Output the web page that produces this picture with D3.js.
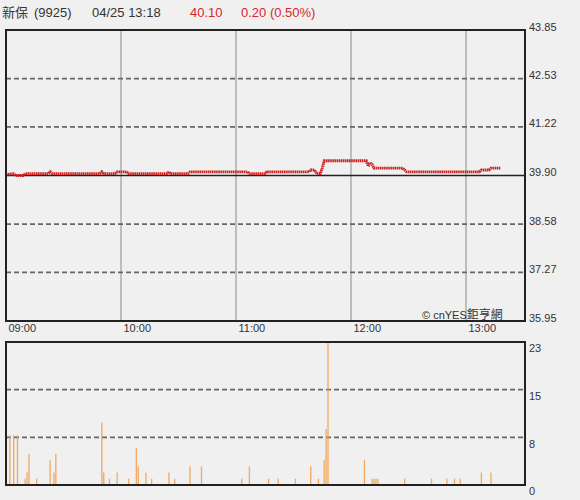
<!DOCTYPE html>
<html>
<head>
<meta charset="utf-8">
<script src="https://cdn.jsdelivr.net/npm/d3@7"></script>
<style>
  html, body { margin: 0; padding: 0; background: #f0f0f0; }
  svg { display: block; }
  text { font-family: "Liberation Sans", Arial, sans-serif; }
</style>
</head>
<body>
<svg id="chart" width="580" height="500"></svg>
<script>
// ---------- data ----------
const stockName = "新保";
const stockCode = "(9925)";
const stampText = "04/25 13:18";
const lastPrice = "40.10";
const changeText = "0.20 (0.50%)";
const prevClose = 39.90;

// price ticks (right axis)
const priceTicks = [43.85, 42.53, 41.22, 39.90, 38.58, 37.27, 35.95];
// time ticks: minutes after 09:00
const timeTickMinutes = [0, 60, 120, 180, 240];
const timeTickLabels = ["09:00", "10:00", "11:00", "12:00", "13:00"];

// price line (minute after 09:00, price)
const priceMinutes = [0, 4, 5, 9, 10, 22, 23, 24, 49, 50, 51, 57, 58, 63, 64, 84, 85, 86, 95, 96, 126, 127, 135, 136, 158, 159, 161, 162, 164, 165, 166, 188, 189, 190, 191, 192, 207, 209, 247, 248, 252, 253, 258];
const priceValues  = [39.93, 39.95, 39.90, 39.90, 39.95, 39.95, 40.00, 39.95, 39.95, 40.00, 39.95, 39.95, 40.00, 40.00, 39.95, 39.95, 40.00, 39.95, 39.95, 40.00, 40.00, 39.95, 39.95, 40.00, 40.00, 40.05, 40.05, 39.95, 39.95, 40.10, 40.30, 40.30, 40.15, 40.25, 40.20, 40.10, 40.10, 40.00, 40.00, 40.05, 40.05, 40.10, 40.10];

// volume bars (minute after 09:00, volume)
const volMinutes = [0, 2, 4, 6, 10, 11, 12, 16, 23, 25, 26, 50, 51, 54, 58, 64, 68, 69, 73, 76, 85, 88, 96, 102, 123, 127, 137, 142, 151, 159, 163, 166, 167, 168, 187, 191, 192, 193, 194, 208, 222, 230, 234, 237, 248, 253];
const volValues  = [8, 8, 8, 8, 1, 2, 5, 1, 4, 2, 5, 10, 2, 1, 2, 1, 6, 3, 2, 1, 2, 1, 3, 3, 1, 3, 1, 1, 1, 3, 1, 4, 9, 23, 4, 1, 1, 1, 1, 1, 1, 1, 1, 1, 2, 2];
const volTickValues = [0, 7.67, 15.33, 23];
const volTickLabels = ["0", "8", "15", "23"];

// ---------- chart ----------
const svg = d3.select("#chart");
svg.append("rect").attr("width", 580).attr("height", 500).attr("fill", "#f0f0f0");

const x = d3.scaleLinear().domain([0, 240]).range([6, 466]);
const yP = d3.scaleLinear().domain([35.95, 43.85]).range([321, 30]);
const yV = d3.scaleLinear().domain([0, 23]).range([485, 342]);
const left = 6, right = 525;

// header
const hdr = svg.append("g").attr("font-size", 13);
hdr.append("text").attr("x", 2).attr("y", 17).attr("fill", "#333")
  .style("font-family", "'Noto Sans CJK TC', sans-serif").text(stockName);
hdr.append("text").attr("x", 34).attr("y", 17).attr("fill", "#333").text(stockCode);
hdr.append("text").attr("x", 92).attr("y", 17).attr("fill", "#333").text(stampText);
hdr.append("text").attr("x", 190).attr("y", 17).attr("fill", "#d9262c").text(lastPrice);
hdr.append("text").attr("x", 241).attr("y", 17).attr("fill", "#d9262c").text(changeText);

// upper panel
const up = svg.append("g");
// vertical grid
up.selectAll("line.vg").data(timeTickMinutes.slice(1)).join("line")
  .attr("x1", d => x(d)).attr("x2", d => x(d))
  .attr("y1", yP(43.85)).attr("y2", yP(35.95))
  .attr("stroke", "#8a8a8a").attr("stroke-width", 1);
// horizontal dashed grid
up.selectAll("line.hg").data(priceTicks.filter(d => d !== prevClose && d !== 43.85 && d !== 35.95)).join("line")
  .attr("x1", left).attr("x2", right)
  .attr("y1", d => yP(d)).attr("y2", d => yP(d))
  .attr("stroke", "#666").attr("stroke-width", 1.8).attr("stroke-dasharray", "5,3");
// prev close line
up.append("line").attr("x1", left).attr("x2", right)
  .attr("y1", yP(prevClose)).attr("y2", yP(prevClose))
  .attr("stroke", "#222").attr("stroke-width", 1.5);

// copyright
up.append("text").attr("x", 422).attr("y", 319).attr("font-size", 11).attr("fill", "#333")
  .text("© cnYES").append("tspan").attr("font-size", 12)
  .style("font-family", "'Noto Sans CJK TC', sans-serif").text("鉅亨網");

// price line
const pts = priceMinutes.map((m, i) => [m, priceValues[i]]);
up.append("path").datum(pts)
  .attr("d", d3.line().x(d => x(d[0])).y(d => yP(d[1])))
  .attr("fill", "none").attr("stroke", "#cc2222").attr("stroke-width", 2.8)
  .attr("stroke-dasharray", "1.6,0.5");

// box
up.append("rect").attr("x", left).attr("y", 30).attr("width", right - left).attr("height", 291)
  .attr("fill", "none").attr("stroke", "#222").attr("stroke-width", 2);

// price axis labels
const pAxis = svg.append("g").attr("transform", `translate(${right},0)`)
  .call(d3.axisRight(yP).tickValues(priceTicks).tickSize(0).tickPadding(4).tickFormat(d3.format(".2f")));
pAxis.select(".domain").remove();
pAxis.selectAll("text").attr("font-size", 11).attr("fill", "#333")
  .attr("font-family", "'Liberation Sans', Arial, sans-serif").attr("dy", "0em");

// time axis labels
const tAxis = svg.append("g").attr("transform", `translate(0,321)`)
  .call(d3.axisBottom(x).tickValues(timeTickMinutes).tickSize(0).tickPadding(0)
    .tickFormat((d, i) => timeTickLabels[i]));
tAxis.select(".domain").remove();
tAxis.selectAll("text").attr("font-size", 11).attr("fill", "#333")
  .attr("font-family", "'Liberation Sans', Arial, sans-serif")
  .attr("text-anchor", "start").attr("x", 2).attr("y", 0).attr("dy", "11");

// volume panel
const vp = svg.append("g");
vp.selectAll("line.vgrid").data(volTickValues.filter(d => d > 0 && d < 23)).join("line")
  .attr("x1", left).attr("x2", right)
  .attr("y1", d => yV(d)).attr("y2", d => yV(d))
  .attr("stroke", "#666").attr("stroke-width", 1.8).attr("stroke-dasharray", "5,3");
vp.selectAll("line.bar").data(volMinutes.map((m, i) => [m, volValues[i]])).join("line")
  .attr("x1", d => x(d[0])).attr("x2", d => x(d[0]))
  .attr("y1", yV(0)).attr("y2", d => yV(d[1]))
  .attr("stroke", "#f4a050").attr("stroke-width", 1.3).attr("stroke-opacity", 0.9);
vp.append("rect").attr("x", left).attr("y", 342).attr("width", right - left).attr("height", 143)
  .attr("fill", "none").attr("stroke", "#222").attr("stroke-width", 2);

const vAxis = svg.append("g").attr("transform", `translate(${right},0)`)
  .call(d3.axisRight(yV).tickValues(volTickValues).tickSize(0).tickPadding(4)
    .tickFormat((d, i) => volTickLabels[i]));
vAxis.select(".domain").remove();
vAxis.selectAll("text").attr("font-size", 11).attr("fill", "#333")
  .attr("font-family", "'Liberation Sans', Arial, sans-serif").attr("dy", "0.9em");
</script>
</body>
</html>
